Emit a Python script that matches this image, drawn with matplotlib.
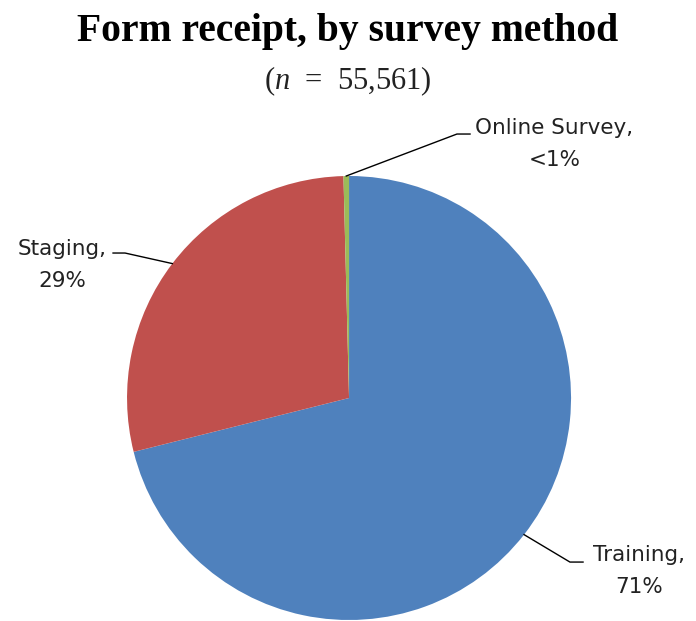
import numpy as np
import matplotlib
matplotlib.use('Agg')
import matplotlib.pyplot as plt

plt.rcParams['mathtext.fontset'] = 'custom'
plt.rcParams['mathtext.it'] = 'Liberation Serif:italic'
plt.rcParams['mathtext.rm'] = 'Liberation Serif'

# data
labels = ['Training', 'Staging', 'Online Survey']
shares = [71.1, 28.5, 0.4]
pct_text = ['71%', '29%', '<1%']
colors = ['#4F81BD', '#C0504D', '#9BBB59']

fig = plt.figure(figsize=(6.96, 6.21), dpi=100)
ax = fig.add_axes([0.1825, 0.0016, 0.638, 0.715])

wedges, _ = ax.pie(shares, colors=colors, startangle=90, counterclock=False,
                   radius=1.0, wedgeprops=dict(linewidth=0))
ax.set_xlim(-1, 1)
ax.set_ylim(-1, 1)
ax.axis('off')

# label placement (data units, pie radius = 1): elbow, line end, text center
label_pos = {
    'Training': ((0.995, -0.739), (1.054, -0.739), (1.305, -0.779)),
    'Staging': ((-1.009, 0.653), (-1.063, 0.653), (-1.293, 0.599)),
    'Online Survey': ((0.486, 1.189), (0.545, 1.189), (0.925, 1.144)),
}

for w, lab, pt in zip(wedges, labels, pct_text):
    mid = np.deg2rad((w.theta1 + w.theta2) / 2)
    x0, y0 = np.cos(mid), np.sin(mid)
    elbow, end, tpos = label_pos[lab]
    ax.plot([x0, elbow[0], end[0]], [y0, elbow[1], end[1]], color='black',
            lw=1.0, clip_on=False)
    ax.text(tpos[0], tpos[1], lab + ',\n' + pt, ha='center', va='center',
            fontsize=15.5, family='DejaVu Sans', color='#222222', linespacing=1.7)

fig.text(0.5, 0.950, 'Form receipt, by survey method', ha='center', va='center',
         fontsize=28.5, fontweight='bold', family='Liberation Serif')
fig.text(0.5, 0.869, r'($\mathit{n}$  =  55,561)', ha='center', va='center',
         fontsize=22, family='Liberation Serif', color='#222222')

fig.savefig('out.png', dpi=100)
